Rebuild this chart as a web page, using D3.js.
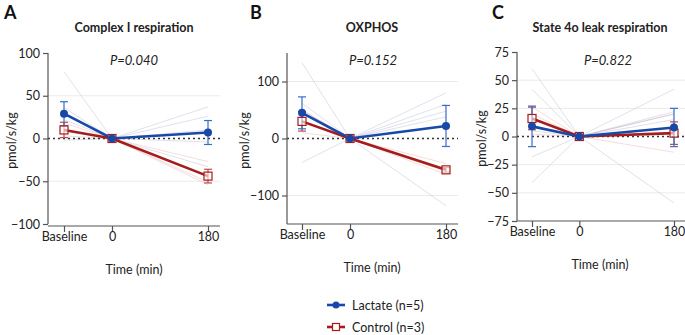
<!DOCTYPE html>
<html><head><meta charset="utf-8">
<script src="https://cdn.jsdelivr.net/npm/d3@7"></script>
<style>body{margin:0;background:#fff}svg{display:block}text{font-family:Lato,"Open Sans",sans-serif;fill:#222}</style>
</head><body>
<svg id="c" width="685" height="335"></svg>
<script>
// ---------- data ----------
const timeLabels = ["Baseline", "0", "180"];
const timeValues = [-90, 0, 180];
const panelLetters = ["A", "B", "C"];
const panelTitles = ["Complex I respiration", "OXPHOS", "State 4o leak respiration"];
const pLabels = ["P=0.040", "P=0.152", "P=0.822"];
const seriesNames = ["Lactate (n=5)", "Control (n=3)"];

const yTicksA = [-100, -50, 0, 50, 100];
const yTicksB = [-100, 0, 100];
const yTicksC = [-75, -50, -25, 0, 25, 50, 75];

const lactateMeanA = [29, 0, 7];
const lactateSemA  = [14, 0, 14];
const controlMeanA = [10, 0, -44];
const controlSemA  = [9, 0, 8];
const lactateIndivA = [[78,0,37],[36,0,26],[22,0,10],[10,0,-4],[-2,0,-33]];
const controlIndivA = [[18,0,-27],[9,0,-51],[3,0,-54]];

const lactateMeanB = [45, 0, 22];
const lactateSemB  = [28, 0, 36];
const controlMeanB = [30, 0, -55];
const controlSemB  = [17, 0, 4];
const lactateIndivB = [[133,0,80],[62,0,60],[50,0,48],[30,0,38],[-42,0,-118]];
const controlIndivB = [[50,0,-44],[30,0,-58],[10,0,-63]];

const lactateMeanC = [9, 0, 8];
const lactateSemC  = [18, 0, 17];
const controlMeanC = [16, 0, 3];
const controlSemC  = [10, 0, 10];
const lactateIndivC = [[60,0,42],[42,0,22],[5,0,20],[-18,0,15],[-41,0,-59]];
const controlIndivC = [[26,0,20],[20,0,3],[2,0,-14]];

// ---------- layout ----------
const colBlue = "#1848a8", colRed = "#a51c1c";
const errBlue = "#3a6cc8", errRed = "#c24a4a";
const panels = [
  {ticks: yTicksA, dom: [-100,100], yr: [224,53], axX: 48, xr: [64,208], axEnd: 220, axY: 226, lx: 12,
   lm: lactateMeanA, ls: lactateSemA, cm: controlMeanA, cs: controlSemA, li: lactateIndivA, ci: controlIndivA,
   letterX: 4, titleX: 134, pX: 134, timeX: 134},
  {ticks: yTicksB, dom: [-150,150], yr: [224,53], axX: 287, xr: [302,446], axEnd: 458, axY: 224, lx: 245,
   lm: lactateMeanB, ls: lactateSemB, cm: controlMeanB, cs: controlSemB, li: lactateIndivB, ci: controlIndivB,
   letterX: 250, titleX: 372, pX: 373, timeX: 372},
  {ticks: yTicksC, dom: [-75,75], yr: [221,52], axX: 517, xr: [532,674], axEnd: 685, axY: 221, lx: 482,
   lm: lactateMeanC, ls: lactateSemC, cm: controlMeanC, cs: controlSemC, li: lactateIndivC, ci: controlIndivC,
   letterX: 492, titleX: 600, pX: 608, timeX: 600}
];

const svg = d3.select("#c");

panels.forEach((p, i) => {
  const x = d3.scaleLinear().domain([timeValues[0], timeValues[2]]).range(p.xr);
  const y = d3.scaleLinear().domain(p.dom).range(p.yr);
  const g = svg.append("g");

  // panel letter, title, p
  g.append("text").attr("x", p.letterX).attr("y", 19).attr("font-size", 18).attr("font-weight", "bold")
    .style("fill", "#111").text(panelLetters[i]);
  g.append("text").attr("x", p.titleX).attr("y", 32).attr("text-anchor", "middle").attr("font-size", 12.5)
    .attr("font-weight", "bold").text(panelTitles[i]);
  g.append("text").attr("x", p.pX).attr("y", 65).attr("text-anchor", "middle").attr("font-size", 13)
    .attr("font-style", "italic").text(pLabels[i]);

  // gridlines
  g.selectAll(".grid").data(p.ticks.filter(t => t !== 0 && t !== p.dom[0] && t !== p.dom[1])).enter()
    .append("line").attr("x1", p.axX).attr("x2", p.axEnd).attr("y1", d => y(d)).attr("y2", d => y(d))
    .attr("stroke", "#ebebeb").attr("stroke-width", 1);

  // individual lines
  const line = d3.line().x((d, j) => x(timeValues[j])).y(d => y(d));
  g.selectAll(".ic").data(p.ci).enter().append("path").attr("d", line).attr("fill", "none")
    .attr("stroke", "#e8a8a8").attr("stroke-opacity", 0.4).attr("stroke-width", 1);
  g.selectAll(".il").data(p.li).enter().append("path").attr("d", line).attr("fill", "none")
    .attr("stroke", "#9aa3c8").attr("stroke-opacity", 0.32).attr("stroke-width", 1);

  // zero dotted line
  g.append("line").attr("x1", p.axX).attr("x2", p.axEnd).attr("y1", y(0)).attr("y2", y(0))
    .attr("stroke", "#333").attr("stroke-width", 1.6).attr("stroke-dasharray", "2,3");

  // y axis
  const yAxis = d3.axisLeft(y).tickValues(p.ticks).tickSize(5).tickPadding(3).tickFormat(d3.format("d"));
  const ya = g.append("g").attr("transform", `translate(${p.axX},0)`).call(yAxis);
  ya.select(".domain").attr("stroke", "#555").attr("stroke-width", 1.2).attr("d", `M0,${p.yr[1]}V${p.yr[0]}`);
  ya.selectAll(".tick line").attr("stroke", "#555").attr("stroke-width", 1.2);
  ya.selectAll(".tick text").attr("font-size", 12.5).attr("font-family", "Lato,sans-serif").style("fill", "#222");

  // x axis
  const xAxis = d3.axisBottom(x).tickValues(timeValues).tickSize(6).tickPadding(6)
    .tickFormat((d, j) => timeLabels[j]);
  const xa = g.append("g").attr("transform", `translate(0,${p.axY})`).call(xAxis);
  xa.select(".domain").attr("stroke", "#555").attr("stroke-width", 1.2).attr("d", `M${p.axX},0H${p.axEnd}`);
  xa.selectAll(".tick line").attr("stroke", "#555").attr("stroke-width", 1.2);
  xa.selectAll(".tick text").attr("font-size", 12.5).attr("font-family", "Lato,sans-serif").style("fill", "#222")
    .attr("dy", "0.2em");

  // axis labels
  g.append("text").attr("x", p.timeX).attr("y", p.axY + 48).attr("text-anchor", "middle").attr("font-size", 12.5)
    .text("Time (min)");
  g.append("text").attr("transform", `translate(${p.lx + 4},${(p.yr[0] + p.yr[1]) / 2 + 2}) rotate(-90)`)
    .attr("text-anchor", "middle").attr("font-size", 12.5).text("pmol/s/kg");

  // error bars
  function errBars(mean, sem, col) {
    const idx = [0, 2];
    idx.forEach(j => {
      const cx = x(timeValues[j]);
      const y1 = y(mean[j] + sem[j]), y2 = y(mean[j] - sem[j]);
      g.append("line").attr("x1", cx).attr("x2", cx).attr("y1", y1).attr("y2", y2).attr("stroke", col).attr("stroke-width", 1.2);
      [y1, y2].forEach(yy => g.append("line").attr("x1", cx - 4).attr("x2", cx + 4).attr("y1", yy).attr("y2", yy)
        .attr("stroke", col).attr("stroke-width", 1.2));
    });
  }
  errBars(p.cm, p.cs, errRed);
  errBars(p.lm, p.ls, errBlue);

  // mean lines
  const ml = d3.line().x((d, j) => x(timeValues[j])).y(d => y(d));
  g.append("path").attr("d", ml(p.cm)).attr("fill", "none").attr("stroke", colRed).attr("stroke-width", 2.6);
  g.append("path").attr("d", ml(p.lm)).attr("fill", "none").attr("stroke", colBlue).attr("stroke-width", 2.6);

  g.selectAll(".sq").data(p.cm).enter().append("rect")
    .attr("x", (d, j) => x(timeValues[j]) - 4).attr("y", d => y(d) - 4).attr("width", 8).attr("height", 8)
    .attr("fill", "#fff").attr("fill-opacity", 0.6).attr("stroke", colRed).attr("stroke-width", 1.2);
  g.selectAll(".ci").data(p.lm).enter().append("circle")
    .attr("cx", (d, j) => x(timeValues[j])).attr("cy", d => y(d)).attr("r", 4).attr("fill", colBlue);
});

// legend
const lg = svg.append("g");
const legY = [305, 327];
// lactate
lg.append("line").attr("x1", 327).attr("x2", 345).attr("y1", legY[0]).attr("y2", legY[0]).attr("stroke", colBlue).attr("stroke-width", 2.6);
lg.append("circle").attr("cx", 336).attr("cy", legY[0]).attr("r", 3.5).attr("fill", colBlue);
lg.append("text").attr("x", 352).attr("y", legY[0] + 4.5).attr("font-size", 12.5).text(seriesNames[0]);
// control
lg.append("line").attr("x1", 327).attr("x2", 345).attr("y1", legY[1]).attr("y2", legY[1]).attr("stroke", colRed).attr("stroke-width", 2.6);
lg.append("rect").attr("x", 332.5).attr("y", legY[1] - 3.5).attr("width", 7).attr("height", 7).attr("fill", "#fff").attr("stroke", colRed).attr("stroke-width", 1.2);
lg.append("text").attr("x", 352).attr("y", legY[1] + 4.5).attr("font-size", 12.5).text(seriesNames[1]);
</script>
</body></html>
